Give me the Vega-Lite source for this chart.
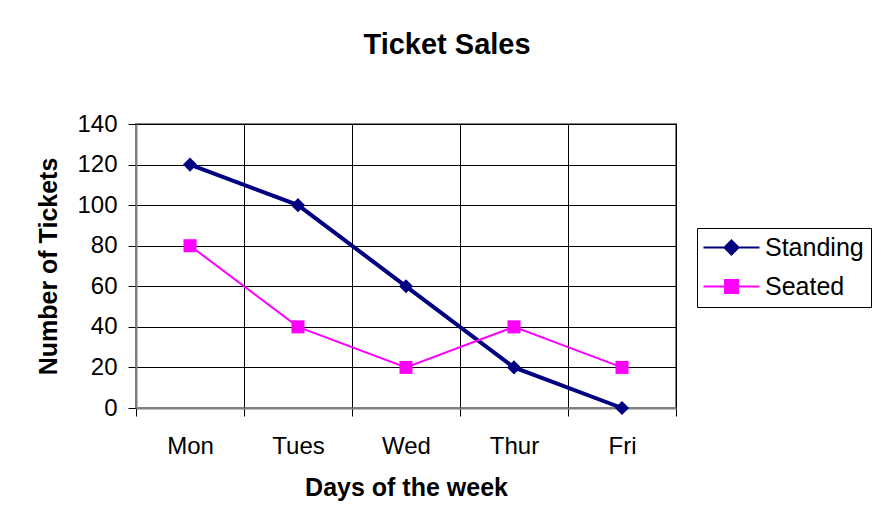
{
  "$schema": "https://vega.github.io/schema/vega-lite/v6.json",
  "width": 540,
  "height": 284,
  "autosize": {"type": "none"},
  "padding": {"left": 136, "top": 124, "right": 196, "bottom": 121},
  "background": "white",
  "title": {
    "text": "Ticket Sales",
    "font": "Liberation Sans",
    "fontSize": 29,
    "fontWeight": "bold",
    "color": "black",
    "anchor": "middle",
    "dx": 41,
    "offset": 52
  },
  "data": {
    "values": [
      {"day": "Mon", "series": "Standing", "value": 120},
      {"day": "Tues", "series": "Standing", "value": 100},
      {"day": "Wed", "series": "Standing", "value": 60},
      {"day": "Thur", "series": "Standing", "value": 20},
      {"day": "Fri", "series": "Standing", "value": 0},
      {"day": "Mon", "series": "Seated", "value": 80},
      {"day": "Tues", "series": "Seated", "value": 40},
      {"day": "Wed", "series": "Seated", "value": 20},
      {"day": "Thur", "series": "Seated", "value": 40},
      {"day": "Fri", "series": "Seated", "value": 20}
    ]
  },
  "encoding": {
    "x": {
      "field": "day",
      "type": "nominal",
      "sort": ["Mon", "Tues", "Wed", "Thur", "Fri"],
      "bandPosition": 0.5,
      "scale": {"type": "band", "paddingInner": 0, "paddingOuter": 0},
      "axis": {
        "title": "Days of the week",
        "labelAngle": 0,
        "tickBand": "extent",
        "grid": true,
        "gridColor": "black",
        "gridWidth": 1,
        "gridOpacity": 1,
        "tickColor": "black",
        "tickSize": 8,
        "tickWidth": 1,
        "domainColor": "#808080",
        "domainWidth": 2,
        "labelFont": "Liberation Sans",
        "labelFontSize": 24,
        "labelColor": "black",
        "labelPadding": 18,
        "titleFont": "Liberation Sans",
        "titleFontSize": 25,
        "titleFontWeight": "bold",
        "titleColor": "black",
        "titleX": 270,
        "titleY": 87,
        "titleBaseline": "alphabetic",
        "titleAlign": "center"
      }
    },
    "y": {
      "field": "value",
      "type": "quantitative",
      "scale": {"domain": [0, 140], "nice": false},
      "axis": {
        "title": "Number of Tickets",
        "values": [0, 20, 40, 60, 80, 100, 120, 140],
        "grid": true,
        "gridColor": "black",
        "gridWidth": 1,
        "gridOpacity": 1,
        "tickColor": "black",
        "tickSize": 8,
        "tickWidth": 1,
        "domainColor": "#808080",
        "domainWidth": 2,
        "labelFont": "Liberation Sans",
        "labelFontSize": 24,
        "labelColor": "black",
        "labelPadding": 11,
        "titleFont": "Liberation Sans",
        "titleFontSize": 25,
        "titleFontWeight": "bold",
        "titleColor": "black",
        "titleX": -88,
        "titleY": 142,
        "titleAngle": -90,
        "titleBaseline": "middle",
        "titleAlign": "center"
      }
    },
    "color": {
      "field": "series",
      "type": "nominal",
      "scale": {"domain": ["Standing", "Seated"], "range": ["#000080", "#FF00FF"]},
      "legend": {
        "title": null,
        "orient": "none",
        "legendX": 561,
        "legendY": 104,
        "strokeColor": "black",
        "fillColor": "white",
        "padding": 7,
        "rowPadding": 13,
        "labelFont": "Liberation Sans",
        "labelFontSize": 25,
        "labelColor": "black",
        "labelOffset": 36,
        "symbolSize": 196,
        "symbolStrokeWidth": 2,
        "symbolOpacity": 1,
        "encode": {
          "symbols": {
            "update": {
              "shape": {"signal": "datum.value === 'Standing' ? 'M-1.86,0H6.14M2.14,-1L3.14,0L2.14,1L1.14,0Z' : 'M-1.86,0H6.14M1.21,-0.93H3.07V0.93H1.21Z'"},
              "fill": {"signal": "datum.value === 'Standing' ? '#000080' : '#FF00FF'"},
              "stroke": {"signal": "datum.value === 'Standing' ? '#000080' : '#FF00FF'"},
              "strokeWidth": {"value": 2},
              "opacity": {"value": 1}
            }
          }
        }
      }
    }
  },
  "layer": [
    {
      "transform": [{"filter": "datum.series === 'Standing'"}],
      "mark": {"type": "line", "strokeWidth": 4}
    },
    {
      "transform": [{"filter": "datum.series === 'Seated'"}],
      "mark": {"type": "line", "strokeWidth": 2}
    },
    {
      "transform": [{"filter": "datum.series === 'Standing'"}],
      "mark": {"type": "point", "filled": true, "opacity": 1, "shape": "diamond", "size": 200}
    },
    {
      "transform": [{"filter": "datum.series === 'Seated'"}],
      "mark": {"type": "point", "filled": true, "opacity": 1, "shape": "square", "size": 170}
    }
  ],
  "config": {
    "view": {"stroke": "#808080", "strokeWidth": 2}
  }
}
